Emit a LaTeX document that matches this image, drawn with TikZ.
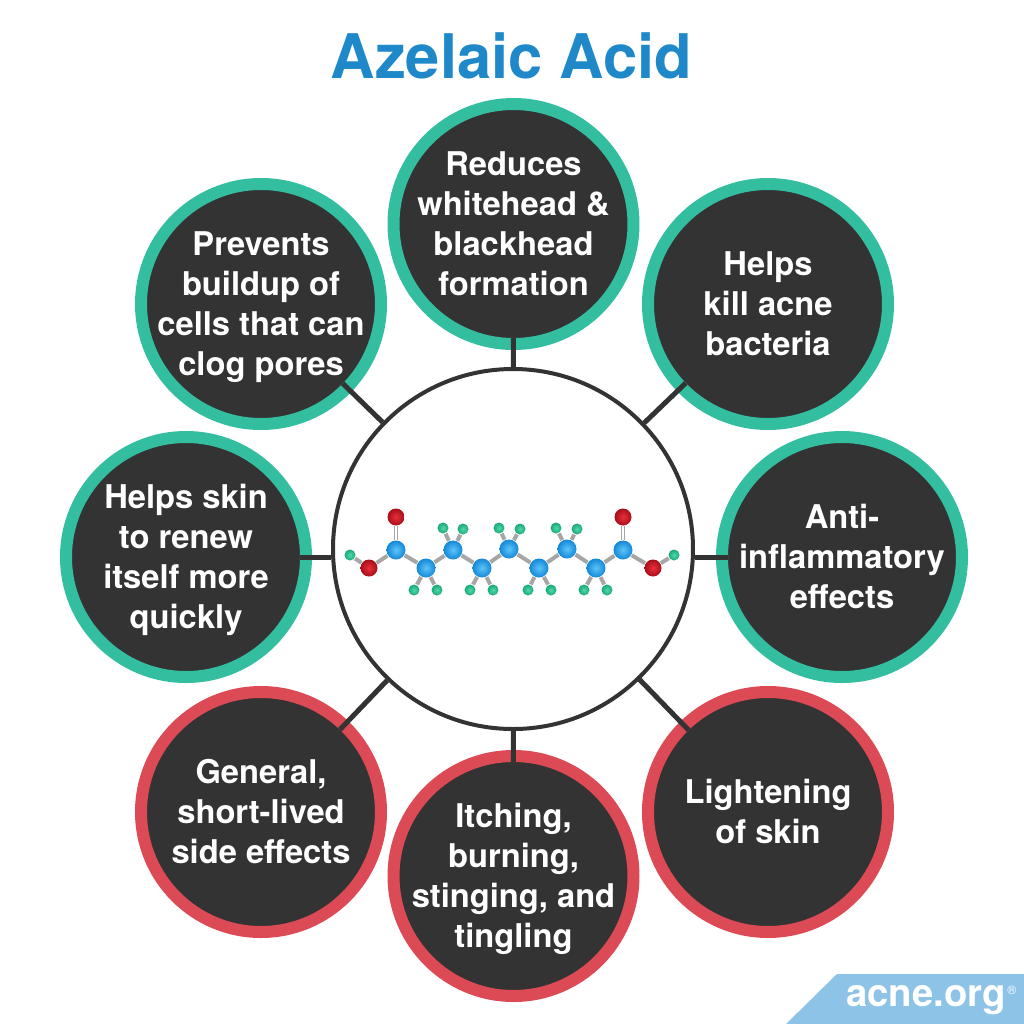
\documentclass[tikz,border=0pt]{standalone}
\usepackage{fontspec}
\setmainfont{TeX Gyre Heros}
\usetikzlibrary{backgrounds}
\definecolor{teal1}{HTML}{34BEA0}
\definecolor{red1}{HTML}{DC4A55}
\definecolor{dark1}{HTML}{333333}
\definecolor{title1}{HTML}{1E88C9}
\definecolor{logo1}{HTML}{8CC3E6}
\definecolor{carbonin}{HTML}{5CC4F8}
\definecolor{carbonout}{HTML}{1488D8}
\definecolor{oxygenin}{HTML}{E8303A}
\definecolor{oxygenout}{HTML}{A80E1A}
\definecolor{hydrogenin}{HTML}{50D8A8}
\definecolor{hydrogenout}{HTML}{1AA878}
\tikzset{
    effect/.style={circle,fill=dark1,draw,line width=0.12cm,minimum size=2.4cm,inner sep=-0.6cm,align=center,text=white,text depth=0.01cm,font=\fontsize{9.3}{11.4}\selectfont\bfseries},
    good/.style={effect,draw=teal1},
    bad/.style={effect,draw=red1},
    link/.style={draw=dark1,line width=0.05cm,shorten >=-0.12cm},
    carbon/.style={circle,inner sep=0pt,minimum size=0.19cm,inner color=carbonin,outer color=carbonout},
    oxygen/.style={circle,inner sep=0pt,minimum size=0.17cm,inner color=oxygenin,outer color=oxygenout},
    hydrogen/.style={circle,inner sep=0pt,minimum size=0.11cm,inner color=hydrogenin,outer color=hydrogenout},
    bond/.style={draw=gray!70,line width=0.04cm},
    dbond/.style={draw=gray!70,line width=0.012cm,double=white,double distance=0.022cm}
}
\begin{document}
\begin{tikzpicture}
            \useasboundingbox (0,0) rectangle (10.24,-10.24);

            %titolo e logo
            \node[text=title1,font=\fontsize{17.5}{20}\selectfont\bfseries] (title) at (5.115,-0.56) {Azelaic Acid};
            \fill[logo1] (7.86,-10.24) -- (8.37,-9.74) -- (10.24,-9.74) -- (10.24,-10.24) -- cycle;
            \node[text=white,font=\fontsize{10.9}{12}\selectfont\bfseries] (logo) at (9.26,-10.0) {acne.org};
            \node[text=white,font=\fontsize{3.5}{4}\selectfont] (reg) at (10.12,-9.9) {®};

            %cerchio centrale e cerchi intorno
            \node[circle,draw=dark1,line width=0.04cm,minimum size=3.6cm] (0) at (5.13,-5.49) {};
            \node[good] (1) at (5.135,-2.24) {Reduces\\whitehead \&\\blackhead\\formation};
            \node[good] (2) at (7.68,-3.04) {Helps\\kill acne\\bacteria};
            \node[good] (3) at (8.42,-5.57) {Anti-\\inflammatory\\effects};
            \node[bad] (4) at (7.68,-8.12) {Lightening\\of skin};
            \node[bad] (5) at (5.135,-8.76) {Itching,\\burning,\\stinging, and\\tingling};
            \node[bad] (6) at (2.61,-8.12) {General,\\short-lived\\side effects};
            \node[good] (7) at (1.86,-5.57) {Helps skin\\to renew\\itself more\\quickly};
            \node[good] (8) at (2.61,-3.04) {Prevents\\buildup of\\cells that can\\clog pores};

            \draw[link] (0) -- (1);
            \draw[link] (0) -- (2);
            \draw[link] (0.east |- 3.west) -- (3.west);
            \draw[link] (0) -- (4);
            \draw[link] (0) -- (5);
            \draw[link] (0) -- (6);
            \draw[link] (0.west |- 7.east) -- (7.east);
            \draw[link] (0) -- (8);

            %molecola
            \node[carbon] (c1) at (3.96,-5.50) {};
            \node[carbon] (c2) at (4.26,-5.68) {};
            \node[carbon] (c3) at (4.53,-5.50) {};
            \node[carbon] (c4) at (4.82,-5.68) {};
            \node[carbon] (c5) at (5.09,-5.49) {};
            \node[carbon] (c6) at (5.39,-5.68) {};
            \node[carbon] (c7) at (5.67,-5.49) {};
            \node[carbon] (c8) at (5.96,-5.68) {};
            \node[carbon] (c9) at (6.23,-5.50) {};

            \node[oxygen] (o1) at (3.96,-5.17) {};
            \node[oxygen] (o2) at (3.69,-5.68) {};
            \node[oxygen] (o3) at (6.23,-5.17) {};
            \node[oxygen] (o4) at (6.53,-5.68) {};

            \node[hydrogen] (h1) at (3.50,-5.55) {};
            \node[hydrogen] (h2) at (6.74,-5.55) {};
            \node[hydrogen] (h3) at (4.14,-5.90) {};
            \node[hydrogen] (h4) at (4.37,-5.90) {};
            \node[hydrogen] (h5) at (4.43,-5.28) {};
            \node[hydrogen] (h6) at (4.63,-5.29) {};
            \node[hydrogen] (h7) at (4.70,-5.90) {};
            \node[hydrogen] (h8) at (4.93,-5.90) {};
            \node[hydrogen] (h9) at (4.99,-5.28) {};
            \node[hydrogen] (h10) at (5.20,-5.29) {};
            \node[hydrogen] (h11) at (5.28,-5.90) {};
            \node[hydrogen] (h12) at (5.51,-5.90) {};
            \node[hydrogen] (h13) at (5.56,-5.28) {};
            \node[hydrogen] (h14) at (5.77,-5.29) {};
            \node[hydrogen] (h15) at (5.84,-5.90) {};
            \node[hydrogen] (h16) at (6.07,-5.90) {};

            \begin{scope}[on background layer]
            \draw[bond] (h1) -- (o2);
            \draw[bond] (o2) -- (c1);
            \draw[dbond] (c1) -- (o1);
            \draw[bond] (c1) -- (c2);
            \draw[bond] (c2) -- (c3);
            \draw[bond] (c3) -- (c4);
            \draw[bond] (c4) -- (c5);
            \draw[bond] (c5) -- (c6);
            \draw[bond] (c6) -- (c7);
            \draw[bond] (c7) -- (c8);
            \draw[bond] (c8) -- (c9);
            \draw[dbond] (c9) -- (o3);
            \draw[bond] (c9) -- (o4);
            \draw[bond] (o4) -- (h2);
            \draw[bond] (c2) -- (h3);
            \draw[bond] (c2) -- (h4);
            \draw[bond] (c3) -- (h5);
            \draw[bond] (c3) -- (h6);
            \draw[bond] (c4) -- (h7);
            \draw[bond] (c4) -- (h8);
            \draw[bond] (c5) -- (h9);
            \draw[bond] (c5) -- (h10);
            \draw[bond] (c6) -- (h11);
            \draw[bond] (c6) -- (h12);
            \draw[bond] (c7) -- (h13);
            \draw[bond] (c7) -- (h14);
            \draw[bond] (c8) -- (h15);
            \draw[bond] (c8) -- (h16);
            \end{scope}

        \end{tikzpicture}
\end{document}
